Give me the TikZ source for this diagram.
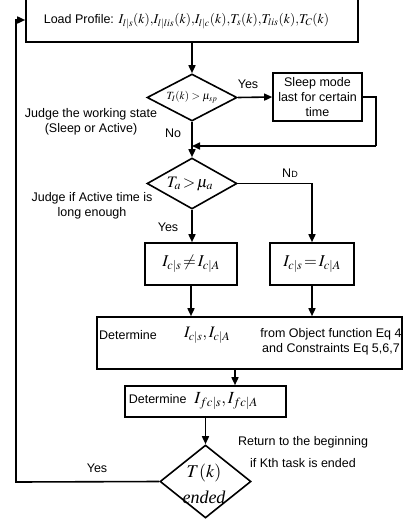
\documentclass[tikz,border=0pt]{standalone}
\usepackage{mathptmx}
\usepackage[no-math]{fontspec}
\setmainfont{Liberation Sans}
\newfontfamily\serif{Liberation Serif}
\usetikzlibrary{shapes.geometric,arrows.meta}
\tikzset{
  box/.style={draw, rectangle, inner sep=0pt},
  dia/.style={draw, diamond, inner sep=0pt},
  lbl/.style={font=\fontsize{12.5}{15}\selectfont, align=center, inner sep=0pt},
  mth/.style={inner sep=0pt},
}
\begin{document}
\begin{tikzpicture}[x=1pt,y=-1pt, line width=1.6pt, >={Triangle[length=8pt,width=7pt]}]
\useasboundingbox (0,0) rectangle (406,522);
% top box
\node[box, minimum width=332pt, minimum height=44pt] (load) at (192,20) {};
\node[lbl, anchor=west] (loadt) at (43,21) {Load Profile: \fontsize{13.5}{16}\selectfont$I_{l|s}(k){,}I_{l|lis}(k){,}I_{l|c}(k){,}T_s(k){,}T_{lis}(k){,}T_C(k)$};
% diamond 1
\node[dia, minimum width=90pt, minimum height=47pt] (d1) at (192,97.5) {};
\node[mth, font=\fontsize{11}{13}\selectfont] (d1t) at (192,97.5) {$T_I(k) > \mu_{sp}$};
\node[box, lbl, minimum width=89pt, minimum height=48pt] (sleep) at (317.5,97) {Sleep mode\\last for certain\\time};
\node[lbl] (yes1) at (248,84) {Yes};
\node[lbl] (judge1) at (91,122) {Judge the working state\\(Sleep or Active)};
\node[lbl] (no1) at (173,133) {No};
\coordinate (s2) at (376,146);
\coordinate (s3) at (192,146);
% diamond 2
\node[dia, minimum width=90pt, minimum height=51pt] (d2) at (192,183.5) {};
\node[mth, font=\fontsize{16}{19}\selectfont] (d2t) at (190,184) {$T_a\!>\!\mu_a$};
\node[lbl] (nd) at (290,173) {N{\fontsize{9}{10}\selectfont D}};
\node[lbl] (judge2) at (92,205.5) {Judge if Active time is\\long enough};
\node[lbl] (yes2) at (168,227) {Yes};
% two boxes
\node[box, minimum width=92pt, minimum height=42pt, font=\fontsize{16.5}{19}\selectfont] (bL) at (191,264) {$I_{c|s}\! \neq\! I_{c|A}$};
\node[box, minimum width=84pt, minimum height=42pt, font=\fontsize{16.5}{19}\selectfont] (bR) at (312,264) {$I_{c|s}\! =\! I_{c|A}$};
% determine box
\node[box, minimum width=305pt, minimum height=52pt] (det) at (249.5,343) {};
\node[lbl] (detA) at (128,335) {Determine};
\node[mth, font=\fontsize{16}{19}\selectfont] (detM) at (207,335) {$I_{c|s}, I_{c|A}$};
\node[lbl] (detB) at (331,342) {from Object function Eq 4\\and Constraints Eq 5,6,7};
% box 2
\node[box, minimum width=161pt, minimum height=31pt] (b2) at (205.5,401.5) {};
\node[lbl, anchor=west] (b2t) at (128,401) {Determine\hspace{8pt}\fontsize{17}{20}\selectfont$I_{fc|s}, I_{fc|A}$};
% diamond 3
\node[dia, minimum width=91pt, minimum height=73pt] (d3) at (205.5,481.5) {};
\node[mth, align=center, font=\fontsize{18}{26}\selectfont] (d3t) at (204,484) {$T(k)$\\{\serif\itshape ended}};
\node[lbl] (yes3) at (97,468) {Yes};
\node[font=\fontsize{12.5}{22}\selectfont, align=center, inner sep=0pt] (ret) at (303,452) {Return to the beginning\\if Kth task is ended};
\coordinate (r1) at (16,482);
\coordinate (r2) at (16,20);
% connectors
\draw[->] (load.south -| d1.north) -- (d1.north);
\draw[->] (d1.east) -- (sleep.west);
\draw (sleep.east) -| (s2);
\draw[->] (s2) -- (s3);
\draw[->] (d1.south) -- (d2.north);
\draw[->] (d2.east) -| (bR.north);
\draw[->] (d2.south) -- (d2.south |- bL.north);
\draw[->] (bL.south) -- (bL.south |- det.north);
\draw[->] (bR.south) -- (bR.south |- det.north);
\draw[->] ([xshift=-14.5pt]det.south) -- ([xshift=-14.5pt]det.south |- b2.north);
\draw[->] (b2.south) -- (d3.north);
\draw[->] (d3.west) -- (r1) -- (r2) -- (load.west);
\end{tikzpicture}
\end{document}
